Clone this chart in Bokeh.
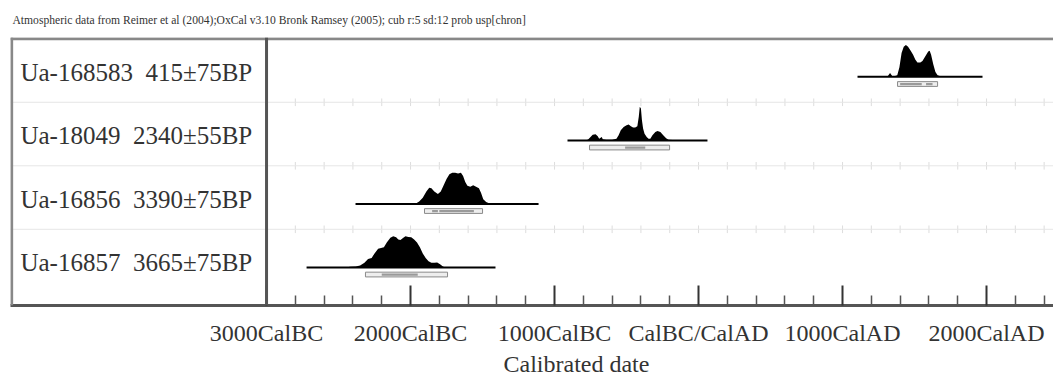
from bokeh.plotting import figure
from bokeh.models import FixedTicker, Span, Range1d, Title
from bokeh.core.properties import value
from bokeh.embed import file_html
from bokeh.resources import INLINE

# ---------------- data ----------------
title_text = ("Atmospheric data from Reimer et al (2004);OxCal v3.10 Bronk Ramsey (2005); "
              "cub r:5 sd:12 prob usp[chron]")
x_title = "Calibrated date"

# rows listed bottom -> top
sample_labels = ["Ua-16857\u00a0\u00a03665\u00b175BP", "Ua-16856\u00a0\u00a03390\u00b175BP",
                 "Ua-18049\u00a0\u00a02340\u00b155BP", "Ua-168583\u00a0\u00a0415\u00b175BP"]

tick_years = [-3000, -2000, -1000, 0, 1000, 2000]
tick_labels = ["3000CalBC", "2000CalBC", "1000CalBC", "CalBC/CalAD", "1000CalAD", "2000CalAD"]
minor_years = [-2800, -2600, -2400, -2200, -1800, -1600, -1400, -1200, -800, -600, -400, -200,
               200, 400, 600, 800, 1200, 1400, 1600, 1800, 2200, 2400]

# Ua-16857 3665+-75BP
yr_16857 = [-2722, -2450, -2420, -2380, -2350, -2320, -2295, -2270, -2250, -2225, -2205, -2185,
            -2165, -2140, -2120, -2100, -2085, -2070, -2050, -2035, -2015, -1995, -1975, -1955,
            -1935, -1915, -1895, -1875, -1855, -1835, -1815, -1795, -1775, -1760, -1410]
pr_16857 = [0, 0, 0.02, 0.03, 0.06, 0.15, 0.27, 0.3, 0.45, 0.6, 0.62, 0.65,
            0.8, 0.95, 1.0, 0.97, 0.9, 0.88, 0.95, 1.0, 0.98, 0.97, 0.9, 0.8,
            0.65, 0.45, 0.3, 0.2, 0.15, 0.15, 0.16, 0.1, 0.03, 0, 0]
s2_16857 = [(-2313, -1743)]
s1_16857 = [(-2200, -1950)]

# Ua-16856 3390+-75BP
yr_16856 = [-2382, -1990, -1960, -1940, -1915, -1890, -1870, -1855, -1835, -1810, -1790, -1770,
            -1750, -1730, -1710, -1690, -1670, -1650, -1635, -1620, -1605, -1585, -1565, -1545,
            -1525, -1510, -1495, -1475, -1455, -1440, -1111]
pr_16856 = [0, 0, 0.02, 0.08, 0.2, 0.4, 0.52, 0.5, 0.4, 0.32, 0.4, 0.6,
            0.8, 0.95, 1.0, 1.0, 0.98, 1.0, 0.9, 0.7, 0.58, 0.55, 0.6, 0.55,
            0.5, 0.35, 0.15, 0.06, 0.02, 0, 0]
s2_16856 = [(-1903, -1500)]
s1_16856 = [(-1850, -1810), (-1800, -1560)]

# Ua-18049 2340+-55BP
yr_18049 = [-910, -780, -765, -750, -735, -715, -700, -690, -680, -672, -665, -640, -600, -570,
            -555, -540, -520, -500, -485, -470, -455, -440, -425, -415, -408, -400, -393, -385,
            -375, -360, -347, -335, -320, -300, -285, -265, -245, -225, -208, -180, 62]
pr_18049 = [0, 0, 0.03, 0.1, 0.17, 0.18, 0.12, 0.05, 0.08, 0.1, 0.03, 0.02, 0.02, 0.05,
            0.15, 0.3, 0.4, 0.45, 0.47, 0.42, 0.38, 0.38, 0.42, 0.7, 1.0, 0.95, 0.6, 0.35,
            0.2, 0.1, 0.05, 0.05, 0.15, 0.25, 0.28, 0.25, 0.15, 0.06, 0.02, 0.01, 0]
s2_18049 = [(-757, -201)]
s1_18049 = [(-510, -370)]

# Ua-168583 415+-75BP
yr_168583 = [1104, 1300, 1315, 1330, 1345, 1360, 1380, 1395, 1410, 1425, 1440, 1455, 1470,
             1490, 1505, 1520, 1540, 1555, 1575, 1595, 1605, 1615, 1630, 1645, 1660, 1680,
             1700, 1770, 1790, 1810, 1972]
pr_168583 = [0, 0, 0.03, 0.12, 0.03, 0.02, 0.05, 0.3, 0.75, 0.95, 1.0, 0.95, 0.85,
             0.7, 0.55, 0.45, 0.45, 0.5, 0.65, 0.8, 0.82, 0.7, 0.4, 0.15, 0.05, 0.02,
             0.01, 0.02, 0.03, 0.01, 0]
s2_168583 = [(1382, 1660)]
s1_168583 = [(1400, 1550), (1580, 1625)]

years = [yr_16857, yr_16856, yr_18049, yr_168583]
probs = [pr_16857, pr_16856, pr_18049, pr_168583]
sig2 = [s2_16857, s2_16856, s2_18049, s2_168583]
sig1 = [s1_16857, s1_16856, s1_18049, s1_168583]
peak_scale = [0.49, 0.49, 0.53, 0.5]

# ---------------- figure ----------------
X0, X1 = -4778, 2465
Y0, Y1 = -0.6, 3.62
SERIF = "Liberation Serif"

p = figure(width=1053, height=376, x_range=Range1d(X0, X1), y_range=Range1d(Y0, Y1),
           y_axis_location=None, toolbar_location=None, output_backend="svg",
           min_border_left=10, min_border_right=0, min_border_top=37, min_border_bottom=71)
p.grid.visible = False
p.outline_line_color = None
p.background_fill_color = "white"
p.border_fill_color = "white"

p.title.text = title_text
p.title.text_font = SERIF
p.title.text_font_size = "11.6px"
p.title.text_font_style = "normal"
p.title.text_color = "#333333"
p.title.align = "left"
p.title.offset = 2
p.title.standoff = 22

# row separators with small tick marks
for g in [0.6, 1.6, 2.6]:
    p.add_layout(Span(location=g, dimension="width", line_color="#e6e6e6", line_width=1))
    p.segment(x0=minor_years + tick_years[1:], y0=g - 0.06, x1=minor_years + tick_years[1:],
              y1=g + 0.06, line_color="#dddddd", line_width=1)

# frame borders (left, top) and separator
p.add_layout(Span(location=X0 + 8, dimension="height", line_color="#888888", line_width=3))
p.add_layout(Span(location=Y1 - 0.02, dimension="width", line_color="#888888", line_width=3))
p.add_layout(Span(location=-3000, dimension="height", line_color="#555555", line_width=3))

for i in range(4):
    base = float(i)
    yr = years[i]
    top = [base + v * peak_scale[i] for v in probs[i]]
    p.varea(x=yr, y1=[base] * len(yr), y2=top, fill_color="black")
    p.line(x=[yr[0], yr[-1]], y=[base, base], line_color="black", line_width=2)
    for (a, b) in sig2[i]:
        p.quad(left=a, right=b, bottom=base - 0.15, top=base - 0.075,
               fill_color="#eeeeee", line_color="#8a8a8a", line_width=1)
    for (a, b) in sig1[i]:
        p.quad(left=a, right=b, bottom=base - 0.13, top=base - 0.095,
               fill_color="#9a9a9a", line_color=None)
    p.text(x=[X0 + 69], y=[base + 0.07], text=[sample_labels[i]],
           text_font=value(SERIF), text_font_size="25px", text_color="#333333",
           text_align="left", text_baseline="middle")

ax = p.xaxis[0]
ax.ticker = FixedTicker(ticks=tick_years, minor_ticks=minor_years)
ax.major_label_overrides = {t: l for t, l in zip(tick_years, tick_labels)}
ax.major_tick_in = 20
ax.major_tick_out = 0
ax.minor_tick_in = 10
ax.minor_tick_out = 0
ax.axis_line_color = "#555555"
ax.axis_line_width = 3
ax.major_tick_line_color = "#333333"
ax.major_tick_line_width = 2
ax.minor_tick_line_color = "#555555"
ax.minor_tick_line_width = 1.5
ax.major_label_text_font = SERIF
ax.major_label_text_font_size = "24px"
ax.major_label_text_color = "#333333"
ax.major_label_standoff = 14

xt = Title(text=x_title, align="left", offset=493, standoff=0,
           text_font=SERIF, text_font_size="24px", text_font_style="normal",
           text_color="#333333")
p.add_layout(xt, "below")

open("out.html", "w").write(file_html(p, INLINE))
